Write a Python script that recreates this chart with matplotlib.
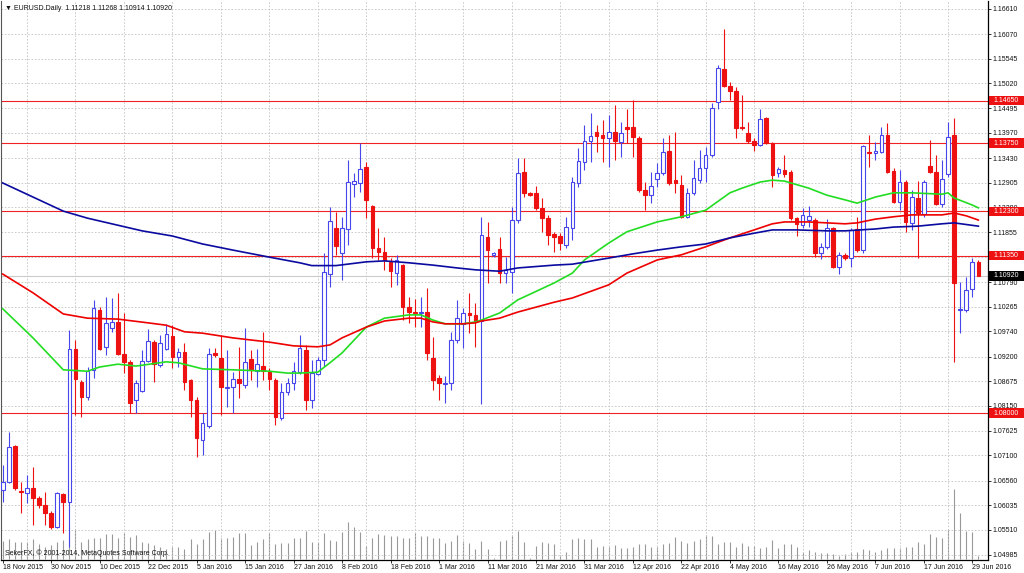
"""
EURUSD daily candles (18 Nov 2015 - 30 Jun 2016), MetaTrader style:
three moving averages, horizontal support/resistance levels, tick volume.
"""
import numpy as np
import matplotlib
matplotlib.use("Agg")
import matplotlib.pyplot as plt
from matplotlib.patches import Rectangle
from matplotlib.transforms import blended_transform_factory

plt.rcParams["font.family"] = ["Liberation Sans", "DejaVu Sans"]

# ---- daily OHLC, one entry per bar (8 bars per row) ----
opens = [
    1.0636, 1.0653, 1.0730, 1.0634, 1.0630, 1.0640, 1.0619, 1.0604,
    1.0587, 1.0557, 1.0627, 1.0610, 1.0936, 1.0866, 1.0834, 1.0892,
    1.1019, 1.0941, 1.0981, 1.0994, 1.0926, 1.0909, 1.0828, 1.0847,
    1.0911, 1.0951, 1.0902, 1.0936, 1.0964, 1.0919, 1.0930, 1.0870,
    1.0828, 1.0743, 1.0772, 1.0928, 1.0917, 1.0853, 1.0855, 1.0872,
    1.0860, 1.0915, 1.0889, 1.0900, 1.0889, 1.0870, 1.0789, 1.0845,
    1.0864, 1.0887, 1.0934, 1.0828, 1.0883, 1.0913, 1.1096, 1.1194,
    1.1141, 1.1192, 1.1288, 1.1290, 1.1324, 1.1241, 1.1151, 1.1143,
    1.1122, 1.1098, 1.1115, 1.1026, 1.1015, 1.1013, 1.1015, 1.0917,
    1.0875, 1.0862, 1.0864, 1.0956, 1.0990, 1.1013, 1.1009, 1.0996,
    1.1175, 1.1137, 1.1149, 1.1098, 1.1100, 1.1211, 1.1313, 1.1269,
    1.1269, 1.1237, 1.1215, 1.1181, 1.1177, 1.1158, 1.1194, 1.1290,
    1.1335, 1.1379, 1.1399, 1.1392, 1.1386, 1.1399, 1.1377, 1.1409,
    1.1409, 1.1386, 1.1275, 1.1264, 1.1298, 1.1311, 1.1358, 1.1296,
    1.1286, 1.1218, 1.1269, 1.1296, 1.1322, 1.1350, 1.1462, 1.1533,
    1.1497, 1.1486, 1.1409, 1.1396, 1.1379, 1.1371, 1.1428, 1.1375,
    1.1311, 1.1318, 1.1313, 1.1215, 1.1200, 1.1211, 1.1211, 1.1141,
    1.1154, 1.1194, 1.1111, 1.1137, 1.1130, 1.1192, 1.1147, 1.1356,
    1.1354, 1.1356, 1.1392, 1.1315, 1.1249, 1.1292, 1.1205, 1.1258,
    1.1224, 1.1326, 1.1313, 1.1245, 1.1309, 1.1392, 1.1019, 1.1019,
    1.1064, 1.11218,
]
highs = [
    1.0689, 1.0760, 1.0732, 1.0653, 1.0668, 1.0685, 1.0623, 1.0632,
    1.0591, 1.0632, 1.0630, 1.0977, 1.0956, 1.0870, 1.0898, 1.1041,
    1.1026, 1.1047, 1.1045, 1.1056, 1.1013, 1.0913, 1.0870, 1.0934,
    1.0979, 1.0956, 1.0966, 1.0990, 1.0987, 1.0938, 1.0949, 1.0872,
    1.0834, 1.0800, 1.0938, 1.0938, 1.0966, 1.0934, 1.0887, 1.0941,
    1.0981, 1.0934, 1.0936, 1.0973, 1.0896, 1.0875, 1.0864, 1.0875,
    1.0909, 1.0966, 1.0945, 1.0913, 1.0919, 1.1141, 1.1239, 1.1228,
    1.1218, 1.1339, 1.1311, 1.1375, 1.1335, 1.1243, 1.1194, 1.1175,
    1.1130, 1.1137, 1.1117, 1.1047, 1.1043, 1.1047, 1.1066, 1.0962,
    1.0881, 1.0879, 1.0973, 1.1041, 1.1024, 1.1056, 1.1034, 1.1218,
    1.1207, 1.1143, 1.1175, 1.1132, 1.1239, 1.1343, 1.1343, 1.1271,
    1.1284, 1.1258, 1.1222, 1.1186, 1.1183, 1.1218, 1.1303, 1.1364,
    1.1413, 1.1439, 1.1413, 1.1424, 1.1435, 1.1456, 1.1420, 1.1448,
    1.1467, 1.1390, 1.1292, 1.1313, 1.1333, 1.1386, 1.1392, 1.1399,
    1.1307, 1.1279, 1.1339, 1.1360, 1.1367, 1.1460, 1.1541, 1.1618,
    1.1505, 1.1494, 1.1477, 1.1420, 1.1386, 1.1448, 1.1431, 1.1377,
    1.1324, 1.1350, 1.1318, 1.1218, 1.1237, 1.1241, 1.1215, 1.1162,
    1.1213, 1.1196, 1.1143, 1.1141, 1.1194, 1.1218, 1.1371, 1.1392,
    1.1377, 1.1409, 1.1418, 1.1322, 1.1318, 1.1296, 1.1275, 1.1294,
    1.1296, 1.1382, 1.1350, 1.1339, 1.1420, 1.1428, 1.1079, 1.1090,
    1.1130, 1.11268,
]
lows = [
    1.0610, 1.0651, 1.0636, 1.0587, 1.0608, 1.0561, 1.0598, 1.0561,
    1.0553, 1.0555, 1.0544, 1.0515, 1.0796, 1.0791, 1.0828, 1.0875,
    1.0934, 1.0924, 1.0973, 1.0924, 1.0885, 1.0800, 1.0800, 1.0845,
    1.0909, 1.0866, 1.0898, 1.0934, 1.0896, 1.0898, 1.0849, 1.0791,
    1.0706, 1.0711, 1.0768, 1.0919, 1.0796, 1.0813, 1.0800, 1.0832,
    1.0853, 1.0870, 1.0855, 1.0870, 1.0849, 1.0774, 1.0785, 1.0838,
    1.0849, 1.0883, 1.0806, 1.0811, 1.0881, 1.0900, 1.1068, 1.1137,
    1.1083, 1.1158, 1.1260, 1.1271, 1.1215, 1.1130, 1.1126, 1.1105,
    1.1068, 1.1073, 1.0998, 1.0992, 1.0983, 1.0983, 1.0913, 1.0849,
    1.0828, 1.0821, 1.0849, 1.0949, 1.0938, 1.0970, 1.0941, 1.0819,
    1.1077, 1.1132, 1.1077, 1.1077, 1.1056, 1.1205, 1.1260, 1.1262,
    1.1232, 1.1186, 1.1158, 1.1143, 1.1147, 1.1151, 1.1169, 1.1281,
    1.1318, 1.1335, 1.1356, 1.1335, 1.1324, 1.1339, 1.1345, 1.1375,
    1.1345, 1.1271, 1.1232, 1.1247, 1.1281, 1.1307, 1.1286, 1.1269,
    1.1215, 1.1215, 1.1264, 1.1290, 1.1292, 1.1345, 1.1448, 1.1494,
    1.1467, 1.1386, 1.1403, 1.1375, 1.1358, 1.1369, 1.1373, 1.1281,
    1.1303, 1.1303, 1.1211, 1.1177, 1.1194, 1.1196, 1.1132, 1.1128,
    1.1149, 1.1109, 1.1096, 1.1126, 1.1111, 1.1143, 1.1141, 1.1324,
    1.1339, 1.1354, 1.1311, 1.1247, 1.1232, 1.1186, 1.1190, 1.1130,
    1.1218, 1.1311, 1.1243, 1.1239, 1.1303, 1.0909, 1.0970, 1.1015,
    1.1047, 1.10914,
]
closes = [
    1.0653, 1.0728, 1.0640, 1.0632, 1.0640, 1.0619, 1.0604, 1.0587,
    1.0557, 1.0630, 1.0610, 1.0936, 1.0872, 1.0834, 1.0889, 1.1024,
    1.0936, 1.0992, 1.0994, 1.0926, 1.0909, 1.0821, 1.0864, 1.0911,
    1.0953, 1.0904, 1.0949, 1.0968, 1.0919, 1.0930, 1.0866, 1.0828,
    1.0747, 1.0779, 1.0926, 1.0924, 1.0855, 1.0855, 1.0872, 1.0864,
    1.0909, 1.0892, 1.0904, 1.0889, 1.0872, 1.0791, 1.0845, 1.0864,
    1.0889, 1.0938, 1.0828, 1.0885, 1.0913, 1.1100, 1.1209, 1.1156,
    1.1194, 1.1292, 1.1294, 1.1320, 1.1254, 1.1151, 1.1143, 1.1126,
    1.1102, 1.1126, 1.1026, 1.1015, 1.1013, 1.1015, 1.0928, 1.0870,
    1.0864, 1.0864, 1.0956, 1.1002, 1.1013, 1.1009, 1.0996, 1.1179,
    1.1147, 1.1141, 1.1098, 1.1105, 1.1211, 1.1311, 1.1269, 1.1264,
    1.1237, 1.1215, 1.1179, 1.1175, 1.1162, 1.1196, 1.1292, 1.1337,
    1.1379, 1.1390, 1.1390, 1.1386, 1.1399, 1.1379, 1.1396, 1.1405,
    1.1388, 1.1275, 1.1264, 1.1284, 1.1311, 1.1356, 1.1290, 1.1290,
    1.1218, 1.1269, 1.1301, 1.1322, 1.1350, 1.1450, 1.1535, 1.1497,
    1.1486, 1.1407, 1.1407, 1.1379, 1.1371, 1.1426, 1.1375, 1.1307,
    1.1320, 1.1309, 1.1215, 1.1203, 1.1222, 1.1220, 1.1141, 1.1154,
    1.1194, 1.1111, 1.1137, 1.1130, 1.1190, 1.1147, 1.1369, 1.1354,
    1.1358, 1.1392, 1.1313, 1.1249, 1.1292, 1.1207, 1.1260, 1.1226,
    1.1292, 1.1313, 1.1245, 1.1298, 1.1388, 1.1077, 1.1022, 1.1062,
    1.1122, 1.10920,
]
# tick volume (relative units)
volumes = [
    55, 59, 52, 52, 52, 59, 45, 35,
    42, 52, 57, 100, 89, 52, 59, 62,
    62, 75, 75, 62, 79, 67, 71, 52,
    49, 42, 37, 29, 35, 35, 29, 60,
    45, 60, 82, 87, 62, 62, 67, 79,
    77, 42, 51, 60, 79, 45, 47, 47,
    64, 64, 84, 52, 52, 79, 57, 54,
    82, 110, 97, 82, 39, 62, 74, 72,
    70, 70, 62, 64, 77, 69, 69, 64,
    62, 49, 54, 72, 54, 47, 29, 54,
    29, 3, 54, 57, 72, 84, 52, 3,
    40, 52, 47, 45, 12, 22, 59, 64,
    60, 59, 37, 40, 37, 42, 34, 32,
    37, 45, 45, 37, 37, 44, 47, 65,
    54, 47, 54, 59, 72, 69, 45, 50,
    52, 37, 49, 40, 40, 32, 37, 57,
    34, 45, 45, 35, 22, 27, 20, 17,
    17, 14, 9, 14, 20, 22, 29, 27,
    22, 27, 32, 32, 32, 37, 37, 52,
    45, 75, 67, 62, 89, 209, 137, 84,
    80, 9,
]

# ---- moving averages, read at sample bars ----
ma_fast_bars = [0, 5, 10, 14, 16, 19, 22, 27, 29, 33, 38, 44, 47, 49, 52, 54,
                56, 60, 63, 67, 69, 71, 73, 76, 78, 79, 82, 85, 91, 94, 96,
                100, 103, 108, 112, 116, 120, 122, 125, 127, 129, 133, 136,
                139, 141, 144, 147, 150, 155, 156, 157, 160, 161]
ma_fast = [1.1022, 1.0960, 1.0892, 1.0889, 1.0898, 1.0904, 1.0900, 1.0909,
           1.0907, 1.0894, 1.0892, 1.0889, 1.0885, 1.0885, 1.0887, 1.0907,
           1.0928, 1.0983, 1.1002, 1.1009, 1.1009, 1.0998, 1.0990, 1.0990,
           1.0994, 1.0998, 1.1013, 1.1041, 1.1077, 1.1098, 1.1126, 1.1162,
           1.1186, 1.1207, 1.1218, 1.1232, 1.1269, 1.1279, 1.1292, 1.1296,
           1.1294, 1.1279, 1.1264, 1.1254, 1.1247, 1.1260, 1.1269, 1.1269,
           1.1266, 1.1269, 1.1258, 1.1243, 1.1237]

ma_mid_bars = [0, 5, 10, 14, 19, 24, 27, 30, 33, 38, 44, 48, 52, 54, 56, 60,
               63, 67, 69, 71, 73, 76, 78, 79, 82, 85, 91, 94, 100, 103, 108,
               112, 116, 120, 124, 127, 129, 133, 136, 139, 141, 144, 147,
               150, 155, 157, 159, 161]
ma_mid = [1.1096, 1.1056, 1.1011, 1.1002, 1.1000, 1.0992, 1.0987, 1.0973,
          1.0970, 1.0960, 1.0951, 1.0943, 1.0941, 1.0945, 1.0960, 1.0983,
          1.0996, 1.1002, 1.1002, 1.0994, 1.0990, 1.0990, 1.0992, 1.0996,
          1.1002, 1.1015, 1.1036, 1.1045, 1.1073, 1.1098, 1.1126, 1.1137,
          1.1154, 1.1173, 1.1190, 1.1203, 1.1207, 1.1207, 1.1205, 1.1203,
          1.1205, 1.1213, 1.1218, 1.1222, 1.1222, 1.1226, 1.1220, 1.1211]

ma_slow_bars = [0, 10, 14, 19, 23, 28, 33, 38, 44, 49, 51, 55, 60, 63, 67, 71,
                75, 78, 82, 85, 91, 94, 100, 104, 108, 112, 116, 120, 124,
                127, 131, 136, 139, 144, 147, 151, 155, 157, 161]
ma_slow = [1.1290, 1.1230, 1.1215, 1.1200, 1.1188, 1.1177, 1.1160, 1.1147,
           1.1132, 1.1120, 1.1114, 1.1114, 1.1122, 1.1124, 1.1120, 1.1115,
           1.1109, 1.1105, 1.1102, 1.1109, 1.1115, 1.1117, 1.1130, 1.1139,
           1.1147, 1.1154, 1.1160, 1.1173, 1.1183, 1.1190, 1.1190, 1.1188,
           1.1188, 1.1192, 1.1196, 1.1198, 1.1203, 1.1205, 1.1198]

# ---- horizontal levels, axis text ----
levels = [1.14650, 1.13750, 1.12300, 1.11350, 1.08000]
last_price = 1.10920

price_ticks = [1.16610, 1.16070, 1.15545, 1.15020, 1.14495, 1.13970, 1.13430,
               1.12905, 1.12380, 1.11855, 1.11320, 1.10790, 1.10265, 1.09740,
               1.09200, 1.08675, 1.08150, 1.07625, 1.07100, 1.06560, 1.06035,
               1.05510, 1.04985]
# the 1.11320 label sits fully under the 1.11350 level box, so it stays blank
price_labels = ["1.16610", "1.16070", "1.15545", "1.15020", "1.14495",
                "1.13970", "1.13430", "1.12905", "1.12380", "1.11855", "",
                "1.10790", "1.10265", "1.09740", "1.09200", "1.08675",
                "1.08150", "1.07625", "1.07100", "1.06560", "1.06035",
                "1.05510", "1.04985"]
date_labels = ["18 Nov 2015", "30 Nov 2015", "10 Dec 2015", "22 Dec 2015",
               "5 Jan 2016", "15 Jan 2016", "27 Jan 2016", "8 Feb 2016",
               "18 Feb 2016", "1 Mar 2016", "11 Mar 2016", "21 Mar 2016",
               "31 Mar 2016", "12 Apr 2016", "22 Apr 2016", "4 May 2016",
               "16 May 2016", "26 May 2016", "7 Jun 2016", "17 Jun 2016",
               "29 Jun 2016"]

title_text = "\u25bc EURUSD.Daily  1.11218 1.11268 1.10914 1.10920"
copyright_text = "SekerFX, \u00a9 2001-2014, MetaQuotes Software Corp."

W, H = 1024, 573
BULL = "#4646ec"
BEAR = "#ee1111"
GRID = "#c4c4c4"
FS = 5.0


def draw_candles(ax, idx, o, h, l, c):
    up = c >= o
    dn = ~up
    ax.vlines(idx[up], l[up], h[up], color=BULL, lw=0.8, zorder=3)
    ax.vlines(idx[dn], l[dn], h[dn], color=BEAR, lw=0.8, zorder=3)
    ax.bar(idx[up], (c - o)[up], bottom=o[up], width=0.6,
           facecolor="white", edgecolor=BULL, lw=0.8, zorder=4)
    ax.bar(idx[dn], (o - c)[dn], bottom=c[dn], width=0.6,
           facecolor=BEAR, edgecolor=BEAR, lw=0.8, zorder=4)


def price_box(ax, price, face):
    # label box sitting on the right price scale
    tr = blended_transform_factory(ax.transAxes, ax.transData)
    half = 0.00098
    ax.add_patch(Rectangle((1.0015, price - half), 0.036, 2 * half,
                           transform=tr, facecolor=face, edgecolor="none",
                           clip_on=False, zorder=10))
    ax.text(1.0055, price, f"{price:.5f}", transform=tr, color="white",
            fontsize=FS, ha="left", va="center", clip_on=False, zorder=11)


def main():
    o, h = np.array(opens), np.array(highs)
    l, c = np.array(lows), np.array(closes)
    idx = np.arange(len(o))

    fig = plt.figure(figsize=(W / 100, H / 100), dpi=100)
    fig.patch.set_facecolor("white")
    rect = [1 / W, 13 / H, 987 / W, 559 / H]

    # volume lives underneath the price panel
    axv = fig.add_axes(rect)
    axv.vlines(idx, 0, volumes, color="#999999", lw=0.8)
    axv.set_ylim(-3, 1674)
    axv.set_xlim(-0.28, 162.59)
    axv.axis("off")

    ax = fig.add_axes(rect, sharex=axv)
    ax.patch.set_visible(False)
    ax.set_xlim(-0.28, 162.59)
    ax.set_ylim(1.04869, 1.16776)

    # grid
    ax.set_axisbelow(True)
    ax.set_yticks(price_ticks)
    ax.set_yticklabels(price_labels)
    ax.set_xticks(range(0, 161, 8))
    ax.set_xticklabels(date_labels)
    ax.set_xticks(range(0, 162, 4), minor=True)
    ax.grid(axis="y", which="major", color=GRID, lw=0.6, ls=(0, (2, 2)))
    ax.grid(axis="x", which="minor", color=GRID, lw=0.6, ls=(0, (2, 2)))

    ax.yaxis.tick_right()
    ax.tick_params(axis="y", which="major", direction="out", length=2,
                   width=0.6, pad=1.5, labelsize=FS, colors="#111111")
    ax.tick_params(axis="x", which="major", direction="out", length=2,
                   width=0.6, pad=0.8, labelsize=FS, colors="#111111")
    ax.tick_params(axis="x", which="minor", length=0)
    for t in ax.get_xticklabels():
        t.set_ha("left")

    ax.spines["top"].set_visible(False)
    ax.spines["left"].set_color("#555555")
    for side in ("right", "bottom"):
        ax.spines[side].set_color("black")
        ax.spines[side].set_linewidth(0.9)

    # bid line and levels
    ax.axhline(last_price, color="#cccccc", lw=0.8, zorder=1)
    for lv in levels:
        ax.axhline(lv, color="#ee2222", lw=0.8, zorder=1.5)

    draw_candles(ax, idx, o, h, l, c)

    ax.plot(ma_fast_bars, ma_fast, color="#22dd22", lw=1.2, zorder=5)
    ax.plot(ma_mid_bars, ma_mid, color="#ee0000", lw=1.2, zorder=5)
    ax.plot(ma_slow_bars, ma_slow, color="#0a0aa0", lw=1.2, zorder=5)

    for lv in levels:
        price_box(ax, lv, "#ee1111")
    price_box(ax, last_price, "black")

    fig.text(5 / W, 1 - 8 / H, title_text, fontsize=FS, va="center",
             ha="left", color="#111111")
    fig.text(5 / W, 1 - 553 / H, copyright_text, fontsize=FS, va="center",
             ha="left", color="#111111", zorder=20)

    fig.savefig("out.png", dpi=100, facecolor="white")
    plt.close(fig)


if __name__ == "__main__":
    main()
